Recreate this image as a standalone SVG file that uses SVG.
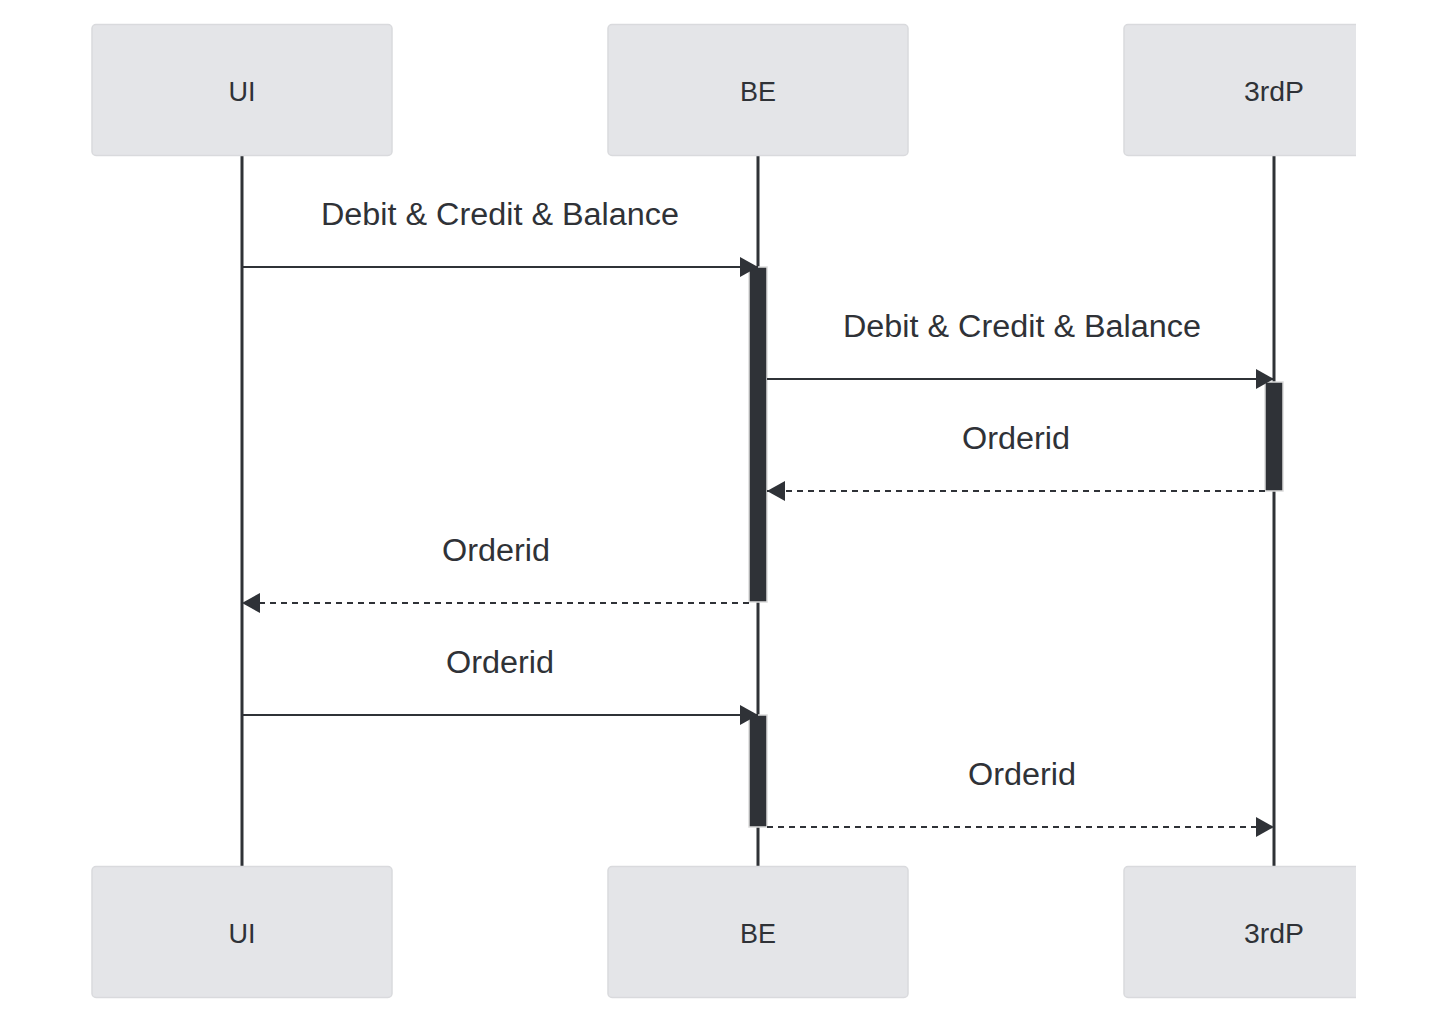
<svg xmlns="http://www.w3.org/2000/svg" width="1454" height="1030" viewBox="0 0 1454 1030">
<style>
.actor{fill:#e4e5e8;stroke:#d9dadd;stroke-width:1.5}
.alabel{font-family:"Liberation Sans",Arial,sans-serif;font-size:27px;fill:#2f3237;text-anchor:middle}
.life{stroke:#2f3237;stroke-width:3}
.msg{stroke:#2f3237;stroke-width:2;fill:none}
.dash{stroke-dasharray:6 5;stroke-width:2.2}
.act{fill:#2f3237;stroke:#dcdcdc;stroke-width:1.5}
.mlabel{font-family:"Liberation Sans",Arial,sans-serif;font-size:31px;fill:#2f3237;text-anchor:middle}
</style>
<defs>
<marker id="ah" viewBox="0 0 18 20" refX="18" refY="10" markerWidth="18" markerHeight="20" markerUnits="userSpaceOnUse" orient="auto">
<path d="M0,0 L18,10 L0,20 Z" fill="#2f3237"/>
</marker>
<clipPath id="clip"><rect x="0" y="0" width="1356" height="1030"/></clipPath>
</defs>
<rect width="1454" height="1030" fill="#ffffff"/>
<g id="lifelines">
<line class="life" x1="242" y1="155" x2="242" y2="866"/>
<line class="life" x1="758" y1="155" x2="758" y2="866"/>
<line class="life" x1="1274" y1="155" x2="1274" y2="866"/>
</g>
<g id="actors" clip-path="url(#clip)">
<g id="ui-top"><rect class="actor" x="92" y="24.5" width="300" height="131" rx="4"/><text class="alabel" x="242" y="101">UI</text></g>
<g id="be-top"><rect class="actor" x="608" y="24.5" width="300" height="131" rx="4"/><text class="alabel" x="758" y="101">BE</text></g>
<g id="3rdp-top"><rect class="actor" x="1124" y="24.5" width="300" height="131" rx="4"/><text class="alabel" x="1274" y="101" textLength="60" lengthAdjust="spacingAndGlyphs">3rdP</text></g>
<g id="ui-bottom"><rect class="actor" x="92" y="866.5" width="300" height="131" rx="4"/><text class="alabel" x="242" y="943">UI</text></g>
<g id="be-bottom"><rect class="actor" x="608" y="866.5" width="300" height="131" rx="4"/><text class="alabel" x="758" y="943">BE</text></g>
<g id="3rdp-bottom"><rect class="actor" x="1124" y="866.5" width="300" height="131" rx="4"/><text class="alabel" x="1274" y="943" textLength="60" lengthAdjust="spacingAndGlyphs">3rdP</text></g>
</g>
<g id="activations">
<rect class="act" x="749" y="267" width="18" height="335"/>
<rect class="act" x="1265" y="382" width="18" height="109"/>
<rect class="act" x="749" y="715" width="18" height="112"/>
</g>
<g id="connectors">
<line class="msg" x1="242" y1="267" x2="758" y2="267" marker-end="url(#ah)"/>
<line class="msg" x1="767" y1="379" x2="1274" y2="379" marker-end="url(#ah)"/>
<line class="msg dash" x1="1265" y1="491" x2="767" y2="491" marker-end="url(#ah)"/>
<line class="msg dash" x1="749" y1="603" x2="242" y2="603" marker-end="url(#ah)"/>
<line class="msg" x1="242" y1="715" x2="758" y2="715" marker-end="url(#ah)"/>
<line class="msg dash" x1="767" y1="827" x2="1274" y2="827" marker-end="url(#ah)"/>
</g>
<g id="labels">
<text class="mlabel" x="500" y="225" textLength="358" lengthAdjust="spacingAndGlyphs">Debit &amp; Credit &amp; Balance</text>
<text class="mlabel" x="1022" y="337" textLength="358" lengthAdjust="spacingAndGlyphs">Debit &amp; Credit &amp; Balance</text>
<text class="mlabel" x="1016" y="449" textLength="108" lengthAdjust="spacingAndGlyphs">Orderid</text>
<text class="mlabel" x="496" y="561" textLength="108" lengthAdjust="spacingAndGlyphs">Orderid</text>
<text class="mlabel" x="500" y="673" textLength="108" lengthAdjust="spacingAndGlyphs">Orderid</text>
<text class="mlabel" x="1022" y="785" textLength="108" lengthAdjust="spacingAndGlyphs">Orderid</text>
</g>
</svg>
